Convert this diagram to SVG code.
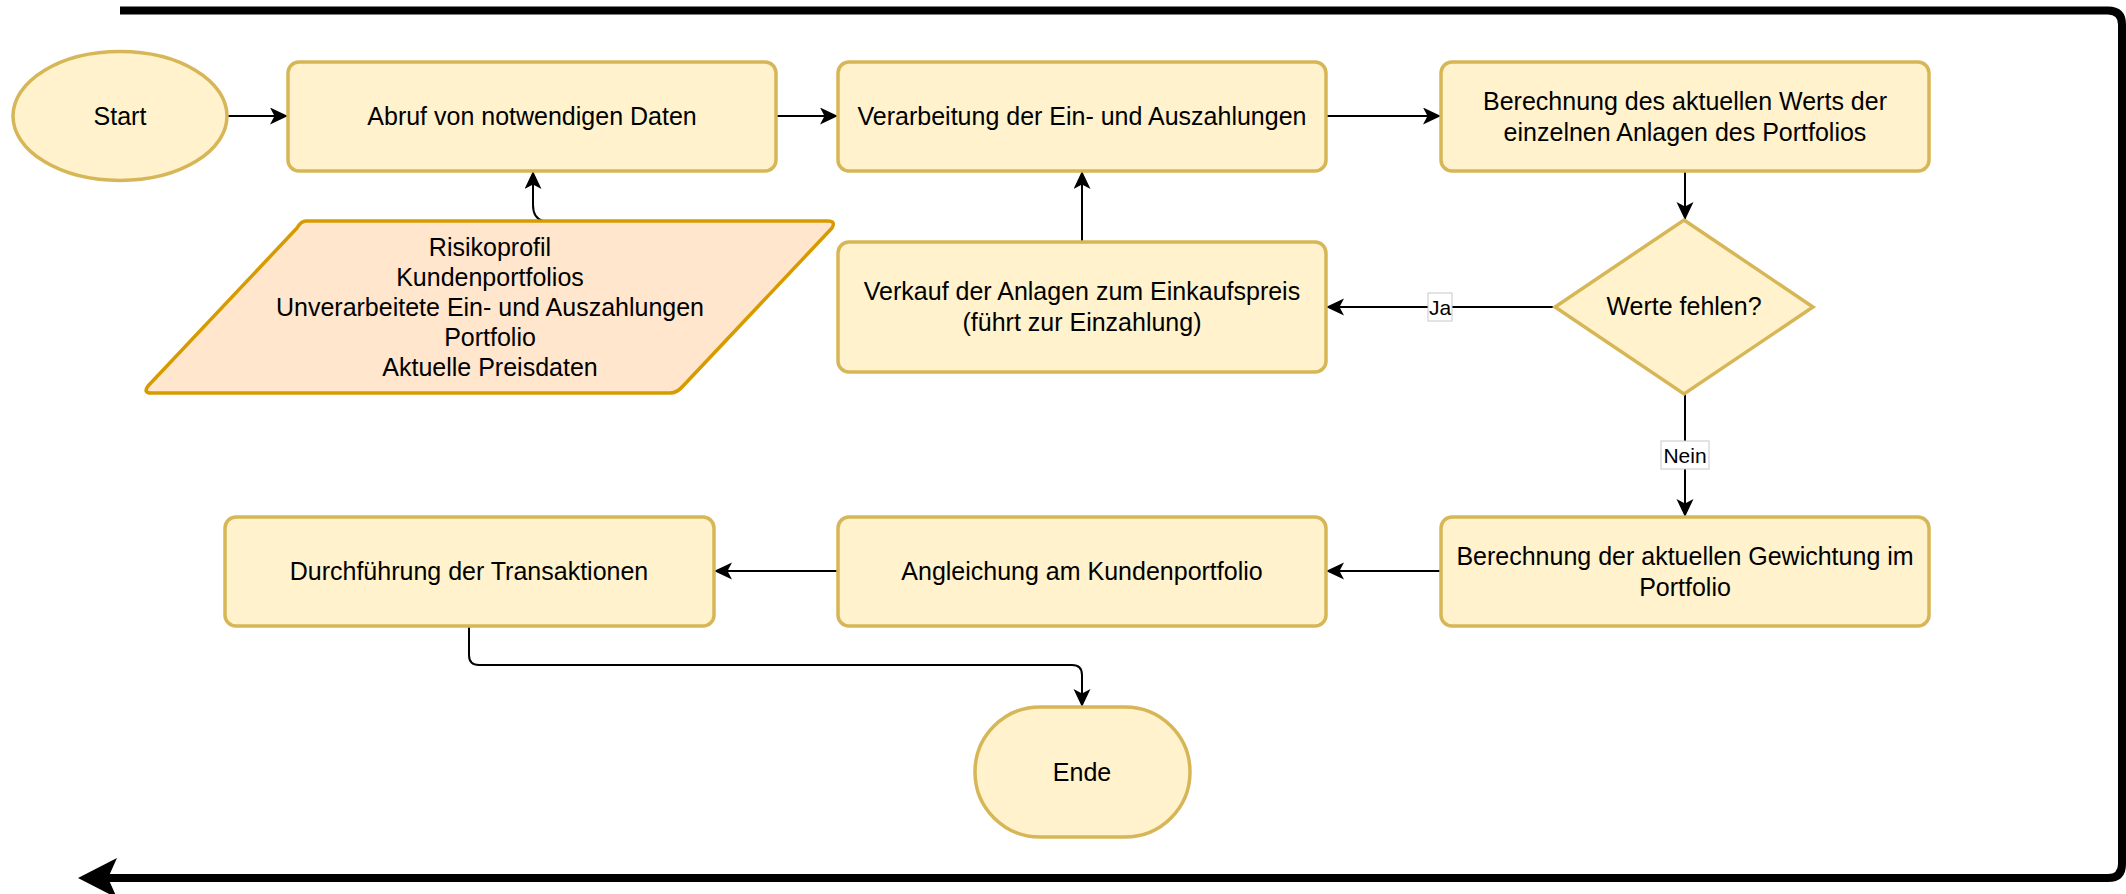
<svg xmlns="http://www.w3.org/2000/svg" width="2126" height="894" viewBox="0 0 2126 894">
<style>
.n{fill:#fff2cc;stroke:#d6b656;stroke-width:3.5}
.io{fill:#ffe6cc;stroke:#d79b00;stroke-width:3.5;stroke-linejoin:round}
.t{font-family:"Liberation Sans",Arial,Helvetica,sans-serif;font-size:25px;fill:#000;text-anchor:middle}
.lt{font-family:"Liberation Sans",Arial,Helvetica,sans-serif;font-size:21px;fill:#000;text-anchor:middle}
.e{fill:none;stroke:#000;stroke-width:2;marker-end:url(#a)}
.lb{fill:#fff;stroke:#c8c8c8;stroke-width:1}
</style>
<defs>
<marker id="a" markerUnits="userSpaceOnUse" markerWidth="20" markerHeight="20" refX="18" refY="8.5" orient="auto">
<path d="M0,0 L18,8.5 L0,17 L4.5,8.5 z" fill="#000"/>
</marker>
</defs>
<rect width="2126" height="894" fill="#fff"/>
<g id="frame">
<path d="M120,10.5 L2108,10.5 Q2122,10.5 2122,24.5 L2122,864 Q2122,878 2108,878 L104,878" fill="none" stroke="#000" stroke-width="8"/>
<path d="M78,878 L117,858 L108,878 L117,898 z" fill="#000"/>
</g>
<g id="connectors">
<path class="e" d="M227,116 L288,116"/>
<path class="e" d="M776,116 L838,116"/>
<path class="e" d="M1326,116 L1441,116"/>
<path class="e" d="M1685,171 L1685,220"/>
<path class="e" d="M1555,307 L1326,307"/>
<path class="e" d="M1082,242 L1082,171"/>
<path class="e" d="M543,221 Q533,218 533,205 L533,171"/>
<path class="e" d="M1685,394 L1685,517"/>
<path class="e" d="M1441,571 L1326,571"/>
<path class="e" d="M838,571 L714,571"/>
<path class="e" d="M469,626 L469,655 Q469,665 479,665 L1072,665 Q1082,665 1082,675 L1082,707"/>
<rect class="lb" x="1428" y="293" width="24" height="28"/>
<text class="lt" x="1440" y="314.5">Ja</text>
<rect class="lb" x="1661" y="441" width="48" height="28"/>
<text class="lt" x="1685" y="462.5">Nein</text>
</g>
<g id="start">
<ellipse class="n" cx="120" cy="116" rx="107" ry="64.5"/>
<text class="t" x="120" y="125">Start</text>
</g>
<g id="abruf">
<rect class="n" x="288" y="62" width="488" height="109" rx="11"/>
<text class="t" x="532" y="125">Abruf von notwendigen Daten</text>
</g>
<g id="verarbeitung">
<rect class="n" x="838" y="62" width="488" height="109" rx="11"/>
<text class="t" x="1082" y="125">Verarbeitung der Ein- und Auszahlungen</text>
</g>
<g id="berechnung-wert">
<rect class="n" x="1441" y="62" width="488" height="109" rx="11"/>
<text class="t" x="1685" y="109.5">Berechnung des aktuellen Werts der</text>
<text class="t" x="1685" y="140.5">einzelnen Anlagen des Portfolios</text>
</g>
<g id="daten">
<path class="io" d="M306,221 L828,221 Q836,221 832,228 L683,386 Q677,393 670,393 L151,393 Q143,393 148,386 L297,228 Q301,221 306,221 z"/>
<text class="t" x="490" y="256">Risikoprofil</text>
<text class="t" x="490" y="286">Kundenportfolios</text>
<text class="t" x="490" y="316">Unverarbeitete Ein- und Auszahlungen</text>
<text class="t" x="490" y="346">Portfolio</text>
<text class="t" x="490" y="376">Aktuelle Preisdaten</text>
</g>
<g id="verkauf">
<rect class="n" x="838" y="242" width="488" height="130" rx="11"/>
<text class="t" x="1082" y="300">Verkauf der Anlagen zum Einkaufspreis</text>
<text class="t" x="1082" y="331">(führt zur Einzahlung)</text>
</g>
<g id="werte-fehlen">
<path class="n" d="M1684,220 L1813,307 L1684,394 L1555,307 z"/>
<text class="t" x="1684" y="315">Werte fehlen?</text>
</g>
<g id="gewichtung">
<rect class="n" x="1441" y="517" width="488" height="109" rx="11"/>
<text class="t" x="1685" y="564.5">Berechnung der aktuellen Gewichtung im</text>
<text class="t" x="1685" y="595.5">Portfolio</text>
</g>
<g id="angleichung">
<rect class="n" x="838" y="517" width="488" height="109" rx="11"/>
<text class="t" x="1082" y="580">Angleichung am Kundenportfolio</text>
</g>
<g id="durchfuehrung">
<rect class="n" x="225" y="517" width="489" height="109" rx="11"/>
<text class="t" x="469" y="580">Durchführung der Transaktionen</text>
</g>
<g id="ende">
<rect class="n" x="975" y="707" width="215" height="130" rx="65" ry="65"/>
<text class="t" x="1082" y="781">Ende</text>
</g>
</svg>
